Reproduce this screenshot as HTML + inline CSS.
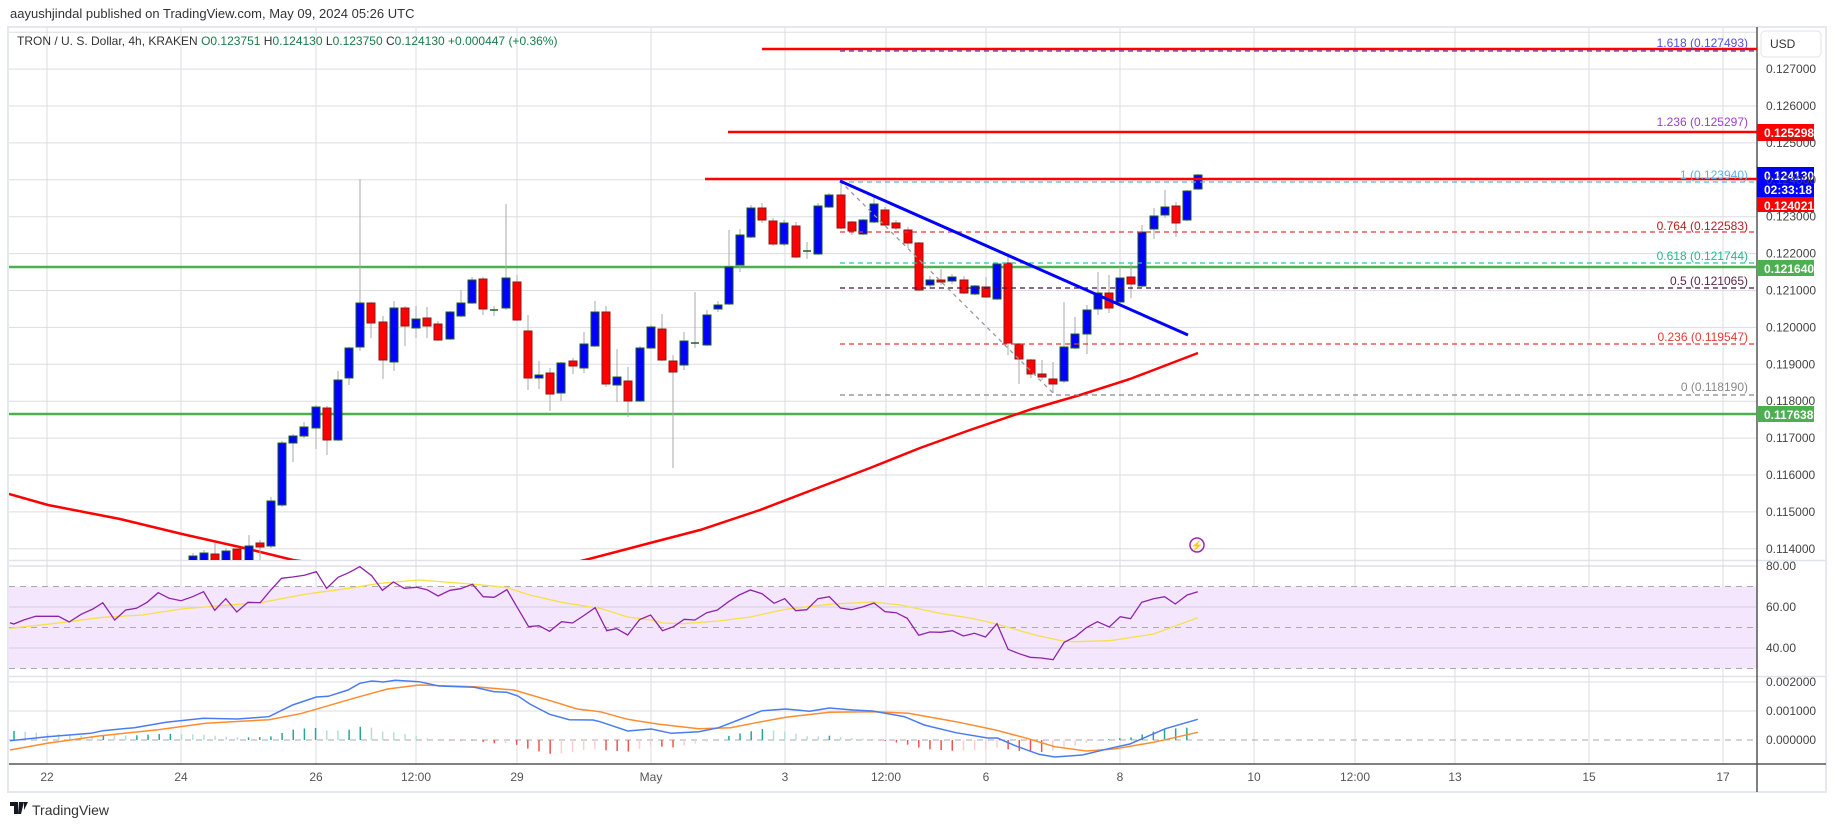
<!DOCTYPE html>
<html><head><meta charset="utf-8">
<style>
html,body{margin:0;padding:0;background:#fff;width:1835px;height:827px;overflow:hidden;font-family:"Liberation Sans",sans-serif;}
svg{position:absolute;left:0;top:0;}
</style></head><body>
<svg id="s" width="1835" height="827" xmlns="http://www.w3.org/2000/svg" font-family="Liberation Sans, sans-serif">
<defs>
<clipPath id="cp"><rect x="9" y="28" width="1748" height="532"/></clipPath>
<clipPath id="cr"><rect x="9" y="561" width="1748" height="115"/></clipPath>
<clipPath id="cm"><rect x="9" y="677" width="1748" height="87"/></clipPath>
</defs>
<rect x="8" y="27" width="1818" height="765" fill="#fff" stroke="#e6e8ef" stroke-width="2"/>
<g id="grid"></g>
<g id="main"></g>
<text x="10" y="18" font-size="13" fill="#333">aayushjindal published on TradingView.com, May 09, 2024 05:26 UTC</text>
<text x="17" y="45" font-size="12" fill="#333">TRON / U. S. Dollar, 4h, KRAKEN <tspan fill="#1b7a4a">O0.123751</tspan> <tspan fill="#333">H</tspan><tspan fill="#1b7a4a">0.124130</tspan> <tspan fill="#333">L</tspan><tspan fill="#1b7a4a">0.123750</tspan> <tspan fill="#333">C</tspan><tspan fill="#1b7a4a">0.124130</tspan> <tspan fill="#1b7a4a">+0.000447 (+0.36%)</tspan></text>
<g id="axis"></g>
<g transform="translate(10,802)">
<path d="M0 0h8v12h-4v-8h-4z M9 0h5l-3 12h-3z M14 0h4l-4 8z" fill="#131722"/>
</g>
<text x="32" y="815" font-size="14" fill="#333">TradingView</text>
</svg>
<script>
var NS="http://www.w3.org/2000/svg";
function el(p,t,a,txt){var e=document.createElementNS(NS,t);for(var k in a)e.setAttribute(k,a[k]);if(txt!==undefined)e.textContent=txt;document.getElementById(p)?document.getElementById(p).appendChild(e):p.appendChild(e);return e;}
var G=document.getElementById('grid'),M=document.getElementById('main'),A=document.getElementById('axis');
function Y(p){return 106+(0.126-p)*36900;}
// vertical grid
var vx=[47,181,316,416,517,651,785,886,986,1120,1254,1355,1455,1589,1723];
var vl=["22","24","26","12:00","29","May","3","12:00","6","8","10","12:00","13","15","17"];
vx.forEach(function(x,i){el(G,'line',{x1:x,y1:28,x2:x,y2:764,stroke:'#dcdde0','stroke-width':1});el(A,'text',{x:x,y:781,'font-size':12,fill:'#555','text-anchor':'middle'},vl[i]);});
// RSI band
el(G,'rect',{x:9,y:586.5,width:1748,height:82,fill:'#f3e6fd'});
// horizontal grid price
for(var p=0.128;p>=0.1139;p-=0.001){var y=Y(p);el(G,'line',{x1:9,y1:y,x2:1757,y2:y,stroke:'#dcdde0'});if(y>50)el(A,'text',{x:1766,y:y+4,'font-size':12,fill:'#444'},p.toFixed(6));}
function RY(v){return 566+(80-v)*2.05;}
[80,60,40].forEach(function(v){el(G,'line',{x1:9,y1:RY(v),x2:1757,y2:RY(v),stroke:'#d4cfe0'});el(A,'text',{x:1766,y:RY(v)+4,'font-size':12,fill:'#444'},v.toFixed(2));});
[70,50,30].forEach(function(v){el(G,'line',{x1:9,y1:RY(v),x2:1757,y2:RY(v),stroke:'#aaa','stroke-dasharray':'6 5'});});
[[682,'0.002000'],[711,'0.001000'],[740,'0.000000']].forEach(function(a,i){el(G,'line',{x1:9,y1:a[0],x2:1757,y2:a[0],stroke:i==2?'#aaa':'#dcdde0','stroke-dasharray':i==2?'6 5':''});el(A,'text',{x:1766,y:a[0]+4,'font-size':12,fill:'#444'},a[1]);});
// pane dividers / axes
el(G,'line',{x1:9,y1:560.5,x2:1826,y2:560.5,stroke:'#e0e3eb','stroke-width':1.5});
el(G,'line',{x1:9,y1:676.5,x2:1826,y2:676.5,stroke:'#e0e3eb','stroke-width':1.5});
el(G,'line',{x1:9,y1:764,x2:1826,y2:764,stroke:'#555','stroke-width':1.5});
el(G,'line',{x1:1757,y1:27,x2:1757,y2:792,stroke:'#555','stroke-width':1.5});
// candles
var C=[[193,'b',556,562,553,562],[204,'b',553,562,550,562],[215,'r',554,562,543,562],[226,'b',551,562,548,562],[237,'r',549,562,547,562],[249,'b',546,562,535,562],[260,'r',543,547,540,560],[271,'b',501,546,497,548],[282,'b',443,505,441,507],[293,'b',436,443,434,462],[304,'b',427,436,422,438],[316,'b',407,428,405,449],[327,'r',408,440,406,455],[338,'b',380,440,371,441],[349,'b',348,378,347,385],[360,'b',303,347,179,351],[371,'r',303,323,302,338],[383,'r',322,360,316,379],[394,'b',308,362,301,371],[405,'r',308,326,306,346],[416,'b',319,328,306,338],[427,'r',318,326,307,338],[438,'r',324,340,321,341],[450,'b',312,339,311,340],[461,'b',303,316,290,317],[472,'b',280,303,277,304],[483,'r',279,309,277,315],[494,'d',310,310,306,316],[506,'b',278,308,204,310],[517,'r',282,320,275,321],[528,'r',331,378,315,390],[539,'b',375,378,361,389],[550,'r',373,394,368,411],[561,'b',363,393,362,401],[573,'r',361,366,358,374],[584,'b',344,368,332,373],[595,'b',312,346,301,347],[606,'r',312,384,306,387],[617,'b',377,385,349,402],[628,'r',381,401,367,417],[640,'b',348,401,346,402],[651,'b',327,348,325,349],[662,'r',329,360,314,361],[673,'r',361,372,355,468],[684,'b',341,365,332,370],[695,'d',343,343,292,348],[707,'b',315,345,310,346],[718,'b',305,309,301,312],[729,'b',267,304,230,305],[740,'b',235,265,229,272],[751,'b',208,237,205,238],[762,'r',208,220,203,223],[773,'r',221,244,218,246],[784,'b',223,244,220,246],[796,'r',226,257,222,258],[807,'d',251,251,242,259],[818,'b',206,254,203,255],[829,'b',195,207,193,208],[841,'r',195,228,181,229],[852,'r',222,231,221,235],[863,'b',220,234,219,235],[874,'b',204,222,195,223],[885,'r',210,225,207,226],[896,'r',223,228,220,230],[908,'r',230,243,227,248],[919,'r',243,290,242,291],[930,'b',280,285,276,289],[941,'r',280,282,269,285],[952,'b',277,281,274,284],[964,'r',280,293,276,294],[975,'b',286,294,285,295],[986,'r',287,297,277,298],[997,'b',264,299,263,300],[1008,'r',263,343,253,355],[1019,'r',344,359,343,384],[1031,'r',360,374,359,378],[1042,'r',374,377,360,380],[1053,'r',379,384,362,393],[1064,'b',347,381,302,383],[1075,'b',334,348,317,349],[1087,'b',310,334,305,354],[1098,'b',293,309,272,315],[1109,'r',293,308,275,313],[1120,'b',278,302,267,305],[1131,'r',277,284,263,298],[1142,'b',232,286,225,287],[1154,'b',216,229,208,239],[1165,'b',207,215,190,218],[1176,'r',206,223,202,237],[1187,'b',191,220,190,221],[1198,'b',175,189,174,190]];
var cg=el(M,'g',{'clip-path':'url(#cp)'});
// horizontal levels
el(cg,'line',{x1:9,y1:267,x2:1757,y2:267,stroke:'#4caf50','stroke-width':2.5});
el(cg,'line',{x1:9,y1:414,x2:1757,y2:414,stroke:'#4caf50','stroke-width':2.5});
// MA red
el(cg,'polyline',{points:'9,494 48,505 120,519 182,534 244,548 293,560 400,575 520,575 560,566 589,559 650,543 700,530 760,510 820,487 870,468 920,448 970,430 1032,409 1080,395 1130,379 1198,353',fill:'none',stroke:'#ff0000','stroke-width':2.5});
C.forEach(function(c){var x=c[0];el(cg,'line',{x1:x,y1:c[4],x2:x,y2:c[5],stroke:'#aaa','stroke-width':1});
 if(c[1]=='d'){el(cg,'line',{x1:x-4,y1:c[2],x2:x+4,y2:c[2],stroke:'#1b5e20','stroke-width':1.5});return;}
 el(cg,'rect',{x:x-4,y:c[2],width:8,height:Math.max(1,c[3]-c[2]),fill:c[1]=='b'?'#0000ff':'#ff0000',stroke:c[1]=='b'?'#1b5e20':'#8b1a1a','stroke-width':1});});
// fib levels
var F=[[51,'#3b3bd0','1.618 (0.127493)','#5050d8',43],[182,'#4fb3e8','1 (0.123940)','#5ab4e0',175],[232,'#e53935','0.764 (0.122583)','#b71c1c',226],[263,'#26c6a0','0.618 (0.121744)','#26b88a',256],[288,'#4a1040','0.5 (0.121065)','#5a2a48',281],[344,'#e53935','0.236 (0.119547)','#e53935',337],[395,'#888','0 (0.118190)','#888',387]];
F.forEach(function(f){el(cg,'line',{x1:840,y1:f[0],x2:1757,y2:f[0],stroke:f[1],'stroke-width':1.2,'stroke-dasharray':'5 4'});el(M,'text',{x:1748,y:f[4]+4,'font-size':12,fill:f[3],'text-anchor':'end'},f[2]);});
el(M,'text',{x:1748,y:126,'font-size':12,fill:'#9c3fc8','text-anchor':'end'},'1.236 (0.125297)');
el(cg,'line',{x1:762,y1:49,x2:1757,y2:49,stroke:'#ff0000','stroke-width':2.5});
el(cg,'line',{x1:728,y1:132,x2:1757,y2:132,stroke:'#ff0000','stroke-width':2.5});
el(cg,'line',{x1:705,y1:179,x2:1757,y2:179,stroke:'#ff0000','stroke-width':2.5});
el(cg,'line',{x1:840,y1:181,x2:1053,y2:393,stroke:'#999','stroke-width':1.3,'stroke-dasharray':'4 4'});
el(cg,'line',{x1:840,y1:181,x2:1188,y2:335,stroke:'#0000ff','stroke-width':3});
el(M,'circle',{cx:1197,cy:545,r:7,fill:'none',stroke:'#9c27b0','stroke-width':1.5});
el(M,'text',{x:1197,y:549,'font-size':10,fill:'#9c27b0','text-anchor':'middle'},'⚡');
// price boxes
function box(y1,h,col,t1,t2){el(M,'rect',{x:1757,y:y1,width:57,height:h,fill:col});el(M,'text',{x:1764,y:y1+13,'font-size':12,'font-weight':'bold',fill:'#fff'},t1);if(t2)el(M,'text',{x:1764,y:y1+27,'font-size':12,'font-weight':'bold',fill:'#fff'},t2);}
box(124,17,'#ff0000','0.125298');box(167,30,'#0000ff','0.124130','02:33:18');box(197,15,'#ff0000','0.124021');box(260,16,'#4caf50','0.121640');box(406,16,'#4caf50','0.117638');
el(M,'rect',{x:1761,y:31,width:60,height:26,rx:4,fill:'#fff',stroke:'#e0e3eb'});
el(M,'text',{x:1770,y:48,'font-size':12,fill:'#333'},'USD');
// indicators
function conv(arr,ox){return arr.map(function(p){return [ox+p[0]*0.3954,555+p[1]/3];});}
var rsi=conv([[25,203],[35,207],[60,195],[90,184],[148,184],[175,201],[205,178],[235,162],[260,143],[290,195],[318,165],[345,160],[372,142],[400,113],[428,130],[458,137],[487,125],[515,110],[543,166],[571,131],[599,171],[627,142],[658,143],[685,105],[712,70],[740,66],[770,61],[800,50],[826,100],[855,67],[882,53],[910,35],[940,62],[967,106],[995,81],[1022,100],[1053,97],[1080,104],[1108,123],[1138,106],[1165,101],[1195,88],[1222,125],[1250,127],[1282,104],[1308,157],[1337,215],[1363,212],[1390,229],[1420,200],[1448,204],[1475,183],[1505,158],[1535,227]],0).concat(conv([[15,227],[42,221],[70,240],[100,194],[128,180],[158,227],[186,215],[213,193],[240,195],[270,173],[297,165],[325,140],[352,120],[380,105],[410,116],[440,145],[467,131],[495,167],[523,164],[551,131],[580,125],[608,159],[636,164],[664,156],[693,144],[721,170],[749,173],[777,190],[806,241],[834,231],[862,232],[891,227],[919,243],[947,235],[975,246],[1004,206],[1032,283],[1060,296],[1088,307],[1116,309],[1146,314],[1174,262],[1202,245],[1230,218],[1258,200],[1288,216],[1316,185],[1342,191],[1370,142],[1400,131],[1428,125],[1455,147],[1485,120],[1512,110]],600));
var rsm=conv([[25,220],[120,208],[260,187],[360,180],[458,162],[600,148],[660,143],[770,118],[900,97],[960,85],[1060,75],[1200,88],[1280,97],[1340,120],[1420,142],[1505,158]],0).concat(conv([[0,160],[70,186],[130,195],[160,204],[210,206],[300,198],[380,186],[470,163],[580,148],[690,141],[760,150],[860,175],[940,190],[1000,206],[1100,240],[1170,258],[1200,260],[1290,257],[1400,237],[1512,188]],600));
var mb=conv([[25,557],[120,545],[230,535],[260,527],[340,518],[420,502],[515,490],[600,492],[680,485],[740,450],[800,426],[830,424],[880,405],[910,385],[940,378],[970,381],[1000,376],[1060,380],[1110,393],[1200,397],[1250,410],[1282,412],[1310,423],[1340,447],[1390,478],[1440,494],[1500,495]],0).concat(conv([[0,500],[70,528],[130,522],[180,535],[250,530],[300,518],[350,495],[410,467],[470,462],[530,469],[580,459],[640,465],[690,468],[770,485],[820,510],[900,533],[980,549],[1005,549],[1050,572],[1110,598],[1150,606],[1220,600],[1290,580],[1340,567],[1430,521],[1512,493]],600));
var mo=conv([[25,585],[120,565],[250,543],[400,524],[520,505],[680,494],[760,476],[830,452],[900,428],[980,402],[1060,390],[1200,395],[1300,405],[1400,440],[1460,462]],0).concat(conv([[0,470],[70,493],[150,508],[250,521],[330,518],[400,502],[470,487],[580,472],[690,470],[780,475],[900,500],[1000,525],[1080,550],[1150,575],[1230,588],[1300,582],[1400,562],[1512,532]],600));
function pts(a){return a.map(function(p){return p[0].toFixed(1)+','+p[1].toFixed(1);}).join(' ');}
function interp(a,x){for(var i=0;i<a.length-1;i++){if(x>=a[i][0]&&x<=a[i+1][0]){var t=(x-a[i][0])/(a[i+1][0]-a[i][0]);return a[i][1]+t*(a[i+1][1]-a[i][1]);}}return null;}
var rg=el(M,'g',{'clip-path':'url(#cr)'});
el(rg,'polyline',{points:pts(rsm),fill:'none',stroke:'#f7e04a','stroke-width':1.3});
el(rg,'polyline',{points:pts(rsi),fill:'none',stroke:'#8e24aa','stroke-width':1.3});
var mg=el(M,'g',{'clip-path':'url(#cm)'});
var prev=0;
for(var x=14;x<=1200;x+=11.17){var b=interp(mb,x),o=interp(mo,x);if(b===null||o===null)continue;var d=o-b;var col;if(d>=0)col=d>=prev?'#26a69a':'#b2dfdb';else col=d<=prev?'#ef5350':'#ffcdd2';prev=d;
 el(mg,'line',{x1:x,y1:740,x2:x,y2:740-d,stroke:col,'stroke-width':1.5});}
el(mg,'polyline',{points:pts(mo),fill:'none',stroke:'#ff8c2e','stroke-width':1.5});
el(mg,'polyline',{points:pts(mb),fill:'none',stroke:'#4a7cf0','stroke-width':1.5});
</script>
</body></html>
